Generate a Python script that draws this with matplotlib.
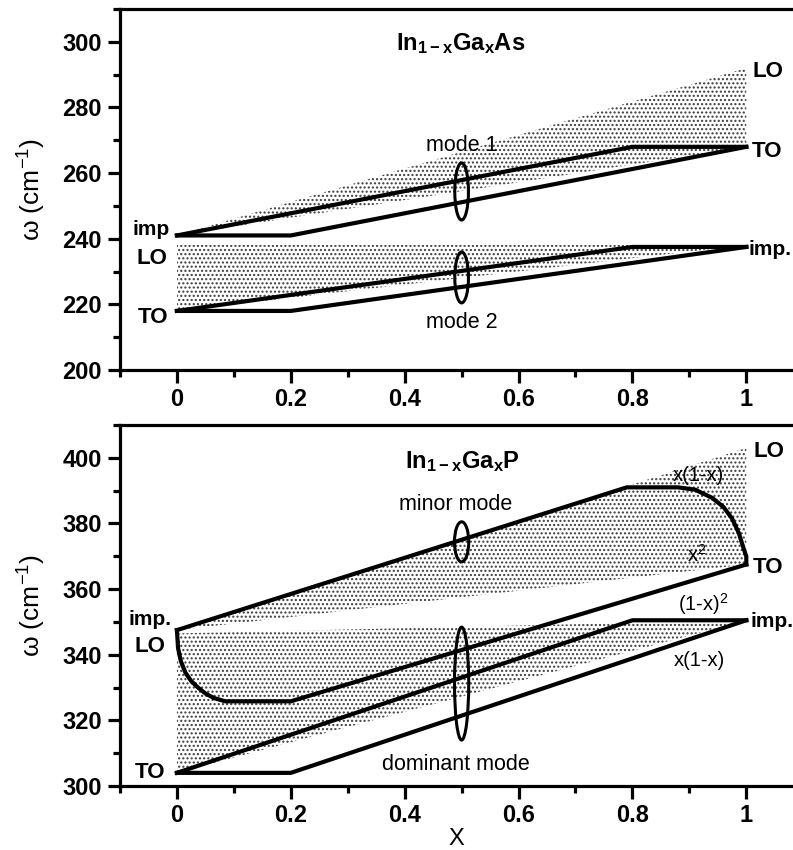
import matplotlib
matplotlib.use("Agg")
import matplotlib.pyplot as plt
from matplotlib.patches import Ellipse
from matplotlib.ticker import MultipleLocator

plt.rcParams["font.family"] = ["Liberation Sans", "DejaVu Sans"]
plt.rcParams["mathtext.fontset"] = "custom"
plt.rcParams["mathtext.rm"] = "Liberation Sans"
plt.rcParams["mathtext.bf"] = "Liberation Sans:bold"
plt.rcParams["mathtext.default"] = "regular"
plt.rcParams["hatch.linewidth"] = 1.0

# ---- In(1-x)Ga(x)As -------------------------------------------------------
as_m1_up_x = [0.0, 0.8, 1.0]
as_m1_up_y = [241.0, 268.0, 268.0]
as_m1_lo_x = [0.0, 0.2, 1.0]
as_m1_lo_y = [241.0, 241.0, 268.0]
as_m2_up_x = [0.0, 0.8, 1.0]
as_m2_up_y = [218.0, 237.5, 237.5]
as_m2_lo_x = [0.0, 0.2, 1.0]
as_m2_lo_y = [218.0, 218.0, 237.5]
as_shade1_x = [0.0, 1.0, 1.0]
as_shade1_y = [241.0, 292.0, 268.0]
as_shade2_x = [0.0, 0.0, 1.0]
as_shade2_y = [218.0, 238.0, 238.0]
as_ell_y = [254.4, 228.2]
as_ell_h = [17.4, 15.5]

# ---- In(1-x)Ga(x)P --------------------------------------------------------
p_a_x = [0.0, 0.79, 0.88, 0.91, 0.94, 0.96, 0.975, 0.987, 0.995, 1.0, 1.0]
p_a_y = [347.5, 391.0, 391.0, 390.3, 387.8, 385.0, 381.5, 377.0, 372.5, 370.0, 367.5]
p_b_x = [0.0, 0.002, 0.007, 0.015, 0.025, 0.037, 0.05, 0.065, 0.085, 0.2, 1.0]
p_b_y = [347.5, 342.0, 338.0, 334.5, 332.0, 330.0, 328.2, 326.8, 325.8, 325.8, 367.5]
p_c_x = [0.0, 0.8, 1.0]
p_c_y = [304.0, 350.5, 350.5]
p_d_x = [0.0, 0.2, 1.0]
p_d_y = [304.0, 304.0, 350.5]
p_shade1_x = [0.0, 1.0, 1.0]
p_shade1_y = [347.5, 403.0, 367.5]
p_shade2_x = [0.0, 0.0, 1.0]
p_shade2_y = [304.0, 346.5, 350.5]
p_ell_y = [374.4, 331.2]
p_ell_h = [12.2, 34.4]

LW = 3.0
HATCH = "...."


def style_axes(ax, ylim, ymajor):
    ax.set_xlim(-0.1, 1.082)
    ax.set_ylim(*ylim)
    ax.spines["right"].set_visible(False)
    for s in ("left", "top", "bottom"):
        ax.spines[s].set_linewidth(2.3)
    ax.xaxis.set_major_locator(MultipleLocator(0.2))
    ax.xaxis.set_minor_locator(MultipleLocator(0.1))
    ax.yaxis.set_major_locator(MultipleLocator(ymajor))
    ax.yaxis.set_minor_locator(MultipleLocator(ymajor / 2))
    ax.xaxis.set_major_formatter(
        matplotlib.ticker.FuncFormatter(lambda v, p: f"{v:g}"))
    ax.tick_params(which="major", direction="out", length=9, width=2.3,
                   labelsize=17, pad=4)
    ax.tick_params(which="minor", direction="out", length=5, width=2.3)
    ax.tick_params(top=False, right=False, which="both")
    for lab in ax.get_xticklabels() + ax.get_yticklabels():
        lab.set_fontweight("bold")
    ax.set_ylabel("ω (cm$^{-1}$)", fontsize=19, labelpad=10)


def shade(ax, xs, ys):
    ax.fill(xs, ys, facecolor="none", edgecolor="#3a3a3a", linewidth=0,
            hatch=HATCH)


fig = plt.figure(figsize=(7.93, 8.5), dpi=100)
ax1 = fig.add_axes([0.1513, 0.5647, 0.8487, 0.4247])
ax2 = fig.add_axes([0.1513, 0.0753, 0.8487, 0.4247])

# --- top panel ---
shade(ax1, as_shade1_x, as_shade1_y)
shade(ax1, as_shade2_x, as_shade2_y)
for xs, ys in [(as_m1_up_x, as_m1_up_y), (as_m1_lo_x, as_m1_lo_y),
               (as_m2_up_x, as_m2_up_y), (as_m2_lo_x, as_m2_lo_y)]:
    ax1.plot(xs, ys, color="black", lw=LW, solid_joinstyle="miter")
for yc, h in zip(as_ell_y, as_ell_h):
    ax1.add_patch(Ellipse((0.5, yc), 0.024, h, fill=False, lw=2.2,
                          color="black"))

ax1.text(0.384, 299.5, r"$\mathbf{In_{1-x}Ga_{x}As}$", fontsize=17,
         va="center", ha="left")
ax1.text(0.5, 268.4, "mode 1", fontsize=15.5, ha="center", va="center")
ax1.text(0.5, 214.6, "mode 2", fontsize=15.5, ha="center", va="center")
ax1.text(1.01, 291, "LO", fontsize=16, fontweight="bold", va="center")
ax1.text(1.01, 266.5, "TO", fontsize=16, fontweight="bold", va="center")
ax1.text(1.004, 236.8, "imp.", fontsize=15, fontweight="bold", va="center")
ax1.text(-0.012, 242.8, "imp", fontsize=15, fontweight="bold",
         va="center", ha="right")
ax1.text(-0.016, 234, "LO", fontsize=16, fontweight="bold",
         va="center", ha="right")
ax1.text(-0.016, 216, "TO", fontsize=16, fontweight="bold",
         va="center", ha="right")
style_axes(ax1, (200, 310), 20)

# --- bottom panel ---
shade(ax2, p_shade1_x, p_shade1_y)
shade(ax2, p_shade2_x, p_shade2_y)
for xs, ys in [(p_a_x, p_a_y), (p_b_x, p_b_y), (p_c_x, p_c_y),
               (p_d_x, p_d_y)]:
    ax2.plot(xs, ys, color="black", lw=LW, solid_joinstyle="round")
for yc, h in zip(p_ell_y, p_ell_h):
    ax2.add_patch(Ellipse((0.5, yc), 0.025, h, fill=False, lw=2.2,
                          color="black"))

ax2.text(0.40, 398.8, r"$\mathbf{In_{1-x}Ga_{x}P}$", fontsize=17,
         va="center", ha="left")
ax2.text(0.49, 385.7, "minor mode", fontsize=15.5, ha="center", va="center")
ax2.text(0.49, 306.4, "dominant mode", fontsize=15.5, ha="center",
         va="center")
ax2.text(1.012, 401.8, "LO", fontsize=16, fontweight="bold", va="center")
ax2.text(1.012, 366.5, "TO", fontsize=16, fontweight="bold", va="center")
ax2.text(1.007, 350, "imp.", fontsize=15, fontweight="bold", va="center")
ax2.text(-0.01, 350.8, "imp.", fontsize=15, fontweight="bold",
         va="center", ha="right")
ax2.text(-0.02, 342.4, "LO", fontsize=16, fontweight="bold",
         va="center", ha="right")
ax2.text(-0.02, 304, "TO", fontsize=16, fontweight="bold",
         va="center", ha="right")
ax2.text(0.916, 394.5, "x(1-x)", fontsize=14.5, ha="center", va="center")
ax2.text(0.912, 370.5, "x$^2$", fontsize=14.5, ha="center", va="center")
ax2.text(0.925, 355.5, "(1-x)$^2$", fontsize=14.5, ha="center", va="center")
ax2.text(0.918, 338.3, "x(1-x)", fontsize=14.5, ha="center", va="center")
style_axes(ax2, (300, 410), 20)
ax2.set_xlabel("X", fontsize=17, labelpad=1)

fig.savefig("out.png", dpi=100)
